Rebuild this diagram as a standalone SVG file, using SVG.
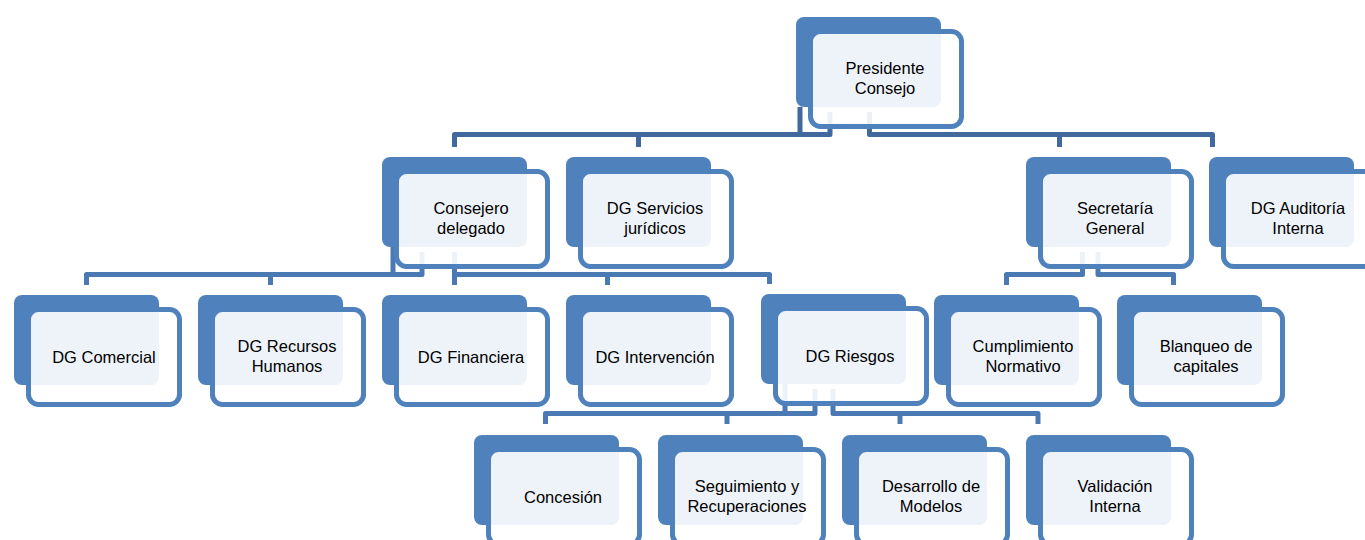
<svg xmlns="http://www.w3.org/2000/svg" width="1365" height="540" viewBox="0 0 1365 540">
<style>
.bk{fill:#4F81BD}
.fr{fill:#FFFFFF;fill-opacity:0.9;stroke:#4F81BD;stroke-width:5}
.c1{fill:none;stroke:#41699D;stroke-width:5;stroke-linejoin:round}
.c2{fill:none;stroke:#4A79B4;stroke-width:5;stroke-linejoin:round}
text{font-family:"Liberation Sans",Arial,sans-serif;font-size:16.5px;fill:#000000;text-anchor:middle}
</style>
<rect width="1365" height="540" fill="#FFFFFF"/>
<g id="connectors">
  <path class="c1" d="M454.5,147 V134.5 H830 V112 M800,107 V134.5 M638.5,134.5 V147"/>
  <path class="c1" d="M869.5,112 V134.5 H1212.5 V147 M1059.5,134.5 V147"/>
  <path class="c2" d="M86.5,285 V274.5 H422 V252 M393,247 V274.5 M270.5,274.5 V285"/>
  <path class="c2" d="M454.5,252 V285 M454.5,274.5 H769.5 V284 M607.5,274.5 V285"/>
  <path class="c2" d="M1006.5,285 V274.5 H1082.5 V252 M1098,252 V274.5 H1173.5 V285"/>
  <path class="c2" d="M545.5,424 V413.5 H815 V389 M785,384 V413.5 M727,413.5 V424"/>
  <path class="c2" d="M833,389 V413.5 H1038 V424 M900,413.5 V424"/>
</g>
<g id="n-presidente" transform="translate(796,17)"><rect class="bk" width="145" height="90" rx="8"/><rect class="fr" x="14.5" y="14.5" width="151" height="95" rx="10"/><text x="89" y="57">Presidente</text><text x="89" y="76.5">Consejo</text></g>
<g id="n-consejero" transform="translate(382,157)"><rect class="bk" width="145" height="90" rx="8"/><rect class="fr" x="14.5" y="14.5" width="151" height="95" rx="10"/><text x="89" y="57">Consejero</text><text x="89" y="76.5">delegado</text></g>
<g id="n-servicios" transform="translate(566,157)"><rect class="bk" width="145" height="90" rx="8"/><rect class="fr" x="14.5" y="14.5" width="151" height="95" rx="10"/><text x="89" y="57">DG Servicios</text><text x="89" y="76.5">jurídicos</text></g>
<g id="n-secretaria" transform="translate(1026,157)"><rect class="bk" width="145" height="90" rx="8"/><rect class="fr" x="14.5" y="14.5" width="151" height="95" rx="10"/><text x="89" y="57">Secretaría</text><text x="89" y="76.5">General</text></g>
<g id="n-auditoria" transform="translate(1209,157)"><rect class="bk" width="145" height="90" rx="8"/><rect class="fr" x="14.5" y="14.5" width="151" height="95" rx="10"/><text x="89" y="57">DG Auditoría</text><text x="89" y="76.5">Interna</text></g>
<g id="n-comercial" transform="translate(14,295)"><rect class="bk" width="145" height="90" rx="8"/><rect class="fr" x="14.5" y="14.5" width="151" height="95" rx="10"/><text x="90" y="67.5">DG Comercial</text></g>
<g id="n-rrhh" transform="translate(198,295)"><rect class="bk" width="145" height="90" rx="8"/><rect class="fr" x="14.5" y="14.5" width="151" height="95" rx="10"/><text x="89" y="57">DG Recursos</text><text x="89" y="76.5">Humanos</text></g>
<g id="n-financiera" transform="translate(382,295)"><rect class="bk" width="145" height="90" rx="8"/><rect class="fr" x="14.5" y="14.5" width="151" height="95" rx="10"/><text x="89" y="67.5">DG Financiera</text></g>
<g id="n-intervencion" transform="translate(566,295)"><rect class="bk" width="145" height="90" rx="8"/><rect class="fr" x="14.5" y="14.5" width="151" height="95" rx="10"/><text x="89" y="67.5">DG Intervención</text></g>
<g id="n-riesgos" transform="translate(761,294)"><rect class="bk" width="145" height="90" rx="8"/><rect class="fr" x="14.5" y="14.5" width="151" height="95" rx="10"/><text x="89" y="67.5">DG Riesgos</text></g>
<g id="n-cumplimiento" transform="translate(934,295)"><rect class="bk" width="145" height="90" rx="8"/><rect class="fr" x="14.5" y="14.5" width="151" height="95" rx="10"/><text x="89" y="57">Cumplimiento</text><text x="89" y="76.5">Normativo</text></g>
<g id="n-blanqueo" transform="translate(1117,295)"><rect class="bk" width="145" height="90" rx="8"/><rect class="fr" x="14.5" y="14.5" width="151" height="95" rx="10"/><text x="89" y="57">Blanqueo de</text><text x="89" y="76.5">capitales</text></g>
<g id="n-concesion" transform="translate(474,435)"><rect class="bk" width="145" height="90" rx="8"/><rect class="fr" x="14.5" y="14.5" width="151" height="95" rx="10"/><text x="89" y="67.5">Concesión</text></g>
<g id="n-seguimiento" transform="translate(658,435)"><rect class="bk" width="145" height="90" rx="8"/><rect class="fr" x="14.5" y="14.5" width="151" height="95" rx="10"/><text x="89" y="57">Seguimiento y</text><text x="89" y="76.5">Recuperaciones</text></g>
<g id="n-desarrollo" transform="translate(842,435)"><rect class="bk" width="145" height="90" rx="8"/><rect class="fr" x="14.5" y="14.5" width="151" height="95" rx="10"/><text x="89" y="57">Desarrollo de</text><text x="89" y="76.5">Modelos</text></g>
<g id="n-validacion" transform="translate(1026,435)"><rect class="bk" width="145" height="90" rx="8"/><rect class="fr" x="14.5" y="14.5" width="151" height="95" rx="10"/><text x="89" y="57">Validación</text><text x="89" y="76.5">Interna</text></g>
</svg>
